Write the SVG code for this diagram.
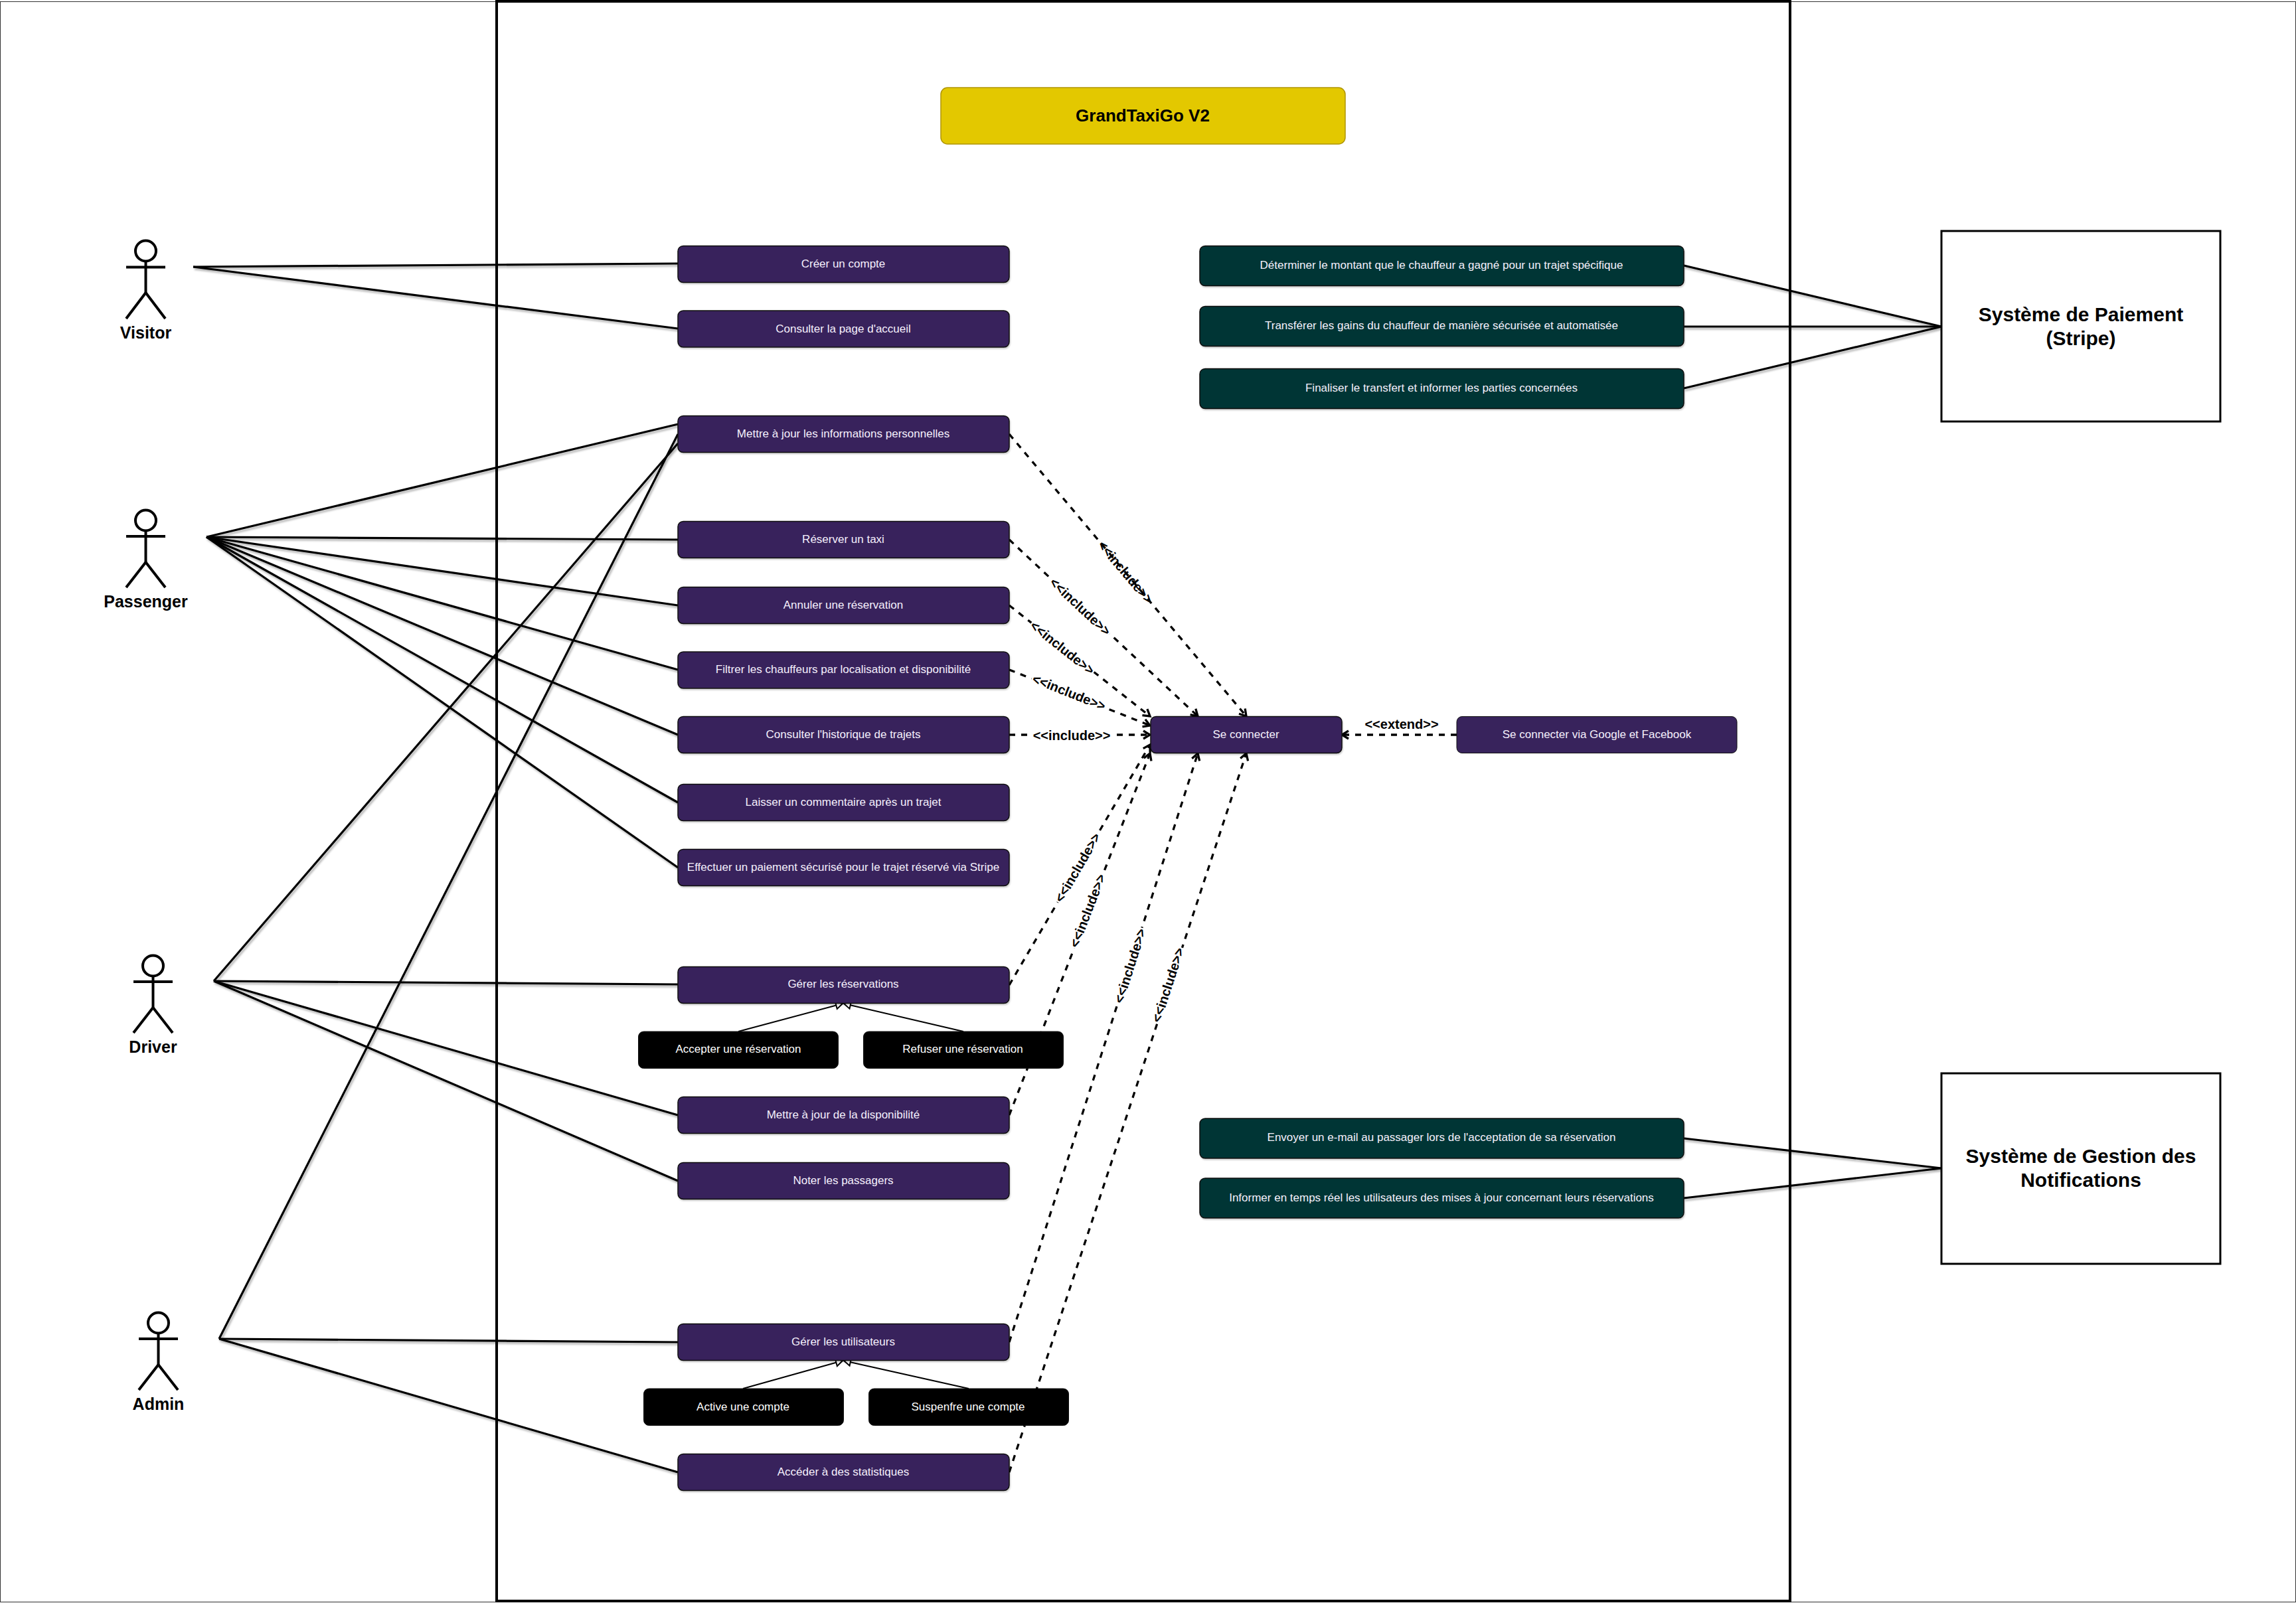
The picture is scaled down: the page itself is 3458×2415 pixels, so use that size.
<svg xmlns="http://www.w3.org/2000/svg" width="3458" height="2415" viewBox="0 0 3458 2415">
<style>
text{font-family:"Liberation Sans",Arial,sans-serif}
.u{stroke-width:1.5;filter:url(#sh)}
.p{fill:#38235c;stroke:#111}
.g{fill:#033434;stroke:#111}
.k{fill:#000;stroke:#111}
.t{font-size:17px;fill:#f5f0fc;text-anchor:middle}
.tw{font-size:17px;fill:#fff;text-anchor:middle}
.a line,.a circle{stroke:#000;stroke-width:4;fill:#fff}
.al{font-size:25px;font-weight:bold;fill:#000;text-anchor:middle}
.s line{stroke:#000;stroke-width:3.2;fill:none}
.d line{stroke:#000;stroke-width:3.300;stroke-dasharray:9 9;fill:none;marker-end:url(#open)}
.h line{stroke:#000;stroke-width:2;fill:none;marker-end:url(#tri)}
.l{font-size:20px;font-weight:bold;fill:#000;text-anchor:middle}
.ext{stroke:#000;stroke-width:3;fill:#fff}
.sys{font-size:30px;font-weight:bold;fill:#000;text-anchor:middle}
</style>
<defs>
<filter id="sh" x="-5%" y="-10%" width="110%" height="130%"><feDropShadow dx="1" dy="2" stdDeviation="1" flood-color="#000" flood-opacity="0.2"/></filter>
<filter id="shl" x="-5%" y="-5%" width="110%" height="120%" filterUnits="userSpaceOnUse" primitiveUnits="userSpaceOnUse"><feDropShadow dx="2" dy="3" stdDeviation="1.5" flood-color="#000" flood-opacity="0.3"/></filter>
<marker id="open" markerUnits="userSpaceOnUse" markerWidth="20" markerHeight="20" refX="17" refY="10" orient="auto"><path d="M7 4 L17 10 L7 16" fill="none" stroke="#000" stroke-width="3.300"/></marker>
<marker id="tri" markerUnits="userSpaceOnUse" markerWidth="20" markerHeight="20" refX="18" refY="10" orient="auto"><path d="M8 4.500 L18 10 L8 15.500 Z" fill="#fff" stroke="#000" stroke-width="2"/></marker>
</defs>
<rect width="3458" height="2415" fill="#fff"/>
<rect id="frame" x="0.500" y="2.500" width="3457" height="2411" fill="none" stroke="#333" stroke-width="1"/>
<rect id="system" x="748" y="2" width="1948" height="2410" fill="#fff" stroke="#000" stroke-width="4"/>

<g id="connectors">
<g class="s" filter="url(#shl)">
<line x1="291" y1="402" x2="1021" y2="397"/><line x1="291" y1="402" x2="1021" y2="495"/>
<line x1="311" y1="809" x2="1021" y2="639"/><line x1="311" y1="809" x2="1021" y2="813"/><line x1="311" y1="809" x2="1021" y2="912"/><line x1="311" y1="809" x2="1021" y2="1009"/><line x1="311" y1="809" x2="1021" y2="1107"/><line x1="311" y1="809" x2="1021" y2="1209"/><line x1="311" y1="809" x2="1021" y2="1307"/>
<line x1="322" y1="1478" x2="1021" y2="668"/><line x1="322" y1="1478" x2="1021" y2="1483"/><line x1="322" y1="1478" x2="1021" y2="1680"/><line x1="322" y1="1478" x2="1021" y2="1779"/>
<line x1="330" y1="2017" x2="1021" y2="654"/><line x1="330" y1="2017" x2="1021" y2="2022"/><line x1="330" y1="2017" x2="1021" y2="2218"/>
<line x1="2536" y1="400" x2="2924" y2="492"/><line x1="2536" y1="492" x2="2924" y2="492"/><line x1="2536" y1="585" x2="2924" y2="492"/>
<line x1="2536" y1="1715" x2="2924" y2="1760"/><line x1="2536" y1="1805" x2="2924" y2="1760"/>
</g>
<g class="d">
<line x1="1520" y1="654" x2="1877" y2="1079"/>
<line x1="1520" y1="813" x2="1804" y2="1079"/>
<line x1="1520" y1="912" x2="1732" y2="1079"/>
<line x1="1520" y1="1009" x2="1732" y2="1093"/>
<line x1="1520" y1="1107" x2="1732" y2="1107"/>
<line x1="1520" y1="1484" x2="1732" y2="1122"/>
<line x1="1520" y1="1680" x2="1732" y2="1135"/>
<line x1="1520" y1="2022" x2="1804" y2="1135"/>
<line x1="1520" y1="2218" x2="1877" y2="1135"/>
<line x1="2194" y1="1107" x2="2021" y2="1107"/>
</g>
<g class="h">
<line x1="1112" y1="1554" x2="1269" y2="1512"/><line x1="1451" y1="1554" x2="1271" y2="1512"/>
<line x1="1119" y1="2092" x2="1269" y2="2050"/><line x1="1459" y1="2092" x2="1271" y2="2050"/>
</g>
</g>

<g id="edge-labels">
<text class="l" transform="translate(1695 862) rotate(50)" y="7">&lt;&lt;include&gt;&gt;</text>
<g transform="translate(1627 914) rotate(43)"><rect x="-60" y="-12" width="120" height="24" fill="#fff"/><text class="l" y="7">&lt;&lt;include&gt;&gt;</text></g>
<g transform="translate(1600 976) rotate(38.400)"><rect x="-60" y="-12" width="120" height="24" fill="#fff"/><text class="l" y="7">&lt;&lt;include&gt;&gt;</text></g>
<g transform="translate(1610 1043) rotate(21.700)"><rect x="-60" y="-12" width="120" height="24" fill="#fff"/><text class="l" y="7">&lt;&lt;include&gt;&gt;</text></g>
<g transform="translate(1614 1108)"><rect x="-62" y="-12" width="124" height="24" fill="#fff"/><text class="l" y="7">&lt;&lt;include&gt;&gt;</text></g>
<g transform="translate(1623 1307) rotate(-59.800)"><rect x="-60" y="-12" width="120" height="24" fill="#fff"/><text class="l" y="7">&lt;&lt;include&gt;&gt;</text></g>
<g transform="translate(1638 1372) rotate(-68.800)"><rect x="-60" y="-12" width="120" height="24" fill="#fff"/><text class="l" y="7">&lt;&lt;include&gt;&gt;</text></g>
<g transform="translate(1702 1455) rotate(-72.300)"><rect x="-60" y="-12" width="120" height="24" fill="#fff"/><text class="l" y="7">&lt;&lt;include&gt;&gt;</text></g>
<g transform="translate(1759 1484) rotate(-71.800)"><rect x="-60" y="-12" width="120" height="24" fill="#fff"/><text class="l" y="7">&lt;&lt;include&gt;&gt;</text></g>
<text class="l" x="2111" y="1098">&lt;&lt;extend&gt;&gt;</text>
</g>

<g id="title"><rect x="1417" y="132" width="609" height="85" rx="10" fill="#e3c800" stroke="#b09500" stroke-width="1.500"/><text x="1721" y="183" font-size="26" font-weight="bold" text-anchor="middle" fill="#000">GrandTaxiGo V2</text></g>

<g id="actor-visitor" class="a"><circle cx="219.500" cy="378" r="15.500"/><line x1="219.500" y1="393.500" x2="219.500" y2="441"/><line x1="190" y1="402.500" x2="249" y2="402.500"/><line x1="219.500" y1="441" x2="190" y2="480"/><line x1="219.500" y1="441" x2="249" y2="480"/><text class="al" x="219.500" y="510">Visitor</text></g>
<g id="actor-passenger" class="a"><circle cx="219.500" cy="784" r="15.500"/><line x1="219.500" y1="799.500" x2="219.500" y2="847"/><line x1="190" y1="808" x2="249" y2="808"/><line x1="219.500" y1="847" x2="190" y2="885"/><line x1="219.500" y1="847" x2="249" y2="885"/><text class="al" x="219.500" y="915">Passenger</text></g>
<g id="actor-driver" class="a"><circle cx="230.500" cy="1455" r="15.500"/><line x1="230.500" y1="1470.500" x2="230.500" y2="1518"/><line x1="201" y1="1479" x2="260" y2="1479"/><line x1="230.500" y1="1518" x2="201" y2="1556"/><line x1="230.500" y1="1518" x2="260" y2="1556"/><text class="al" x="230.500" y="1586">Driver</text></g>
<g id="actor-admin" class="a"><circle cx="238.500" cy="1993" r="15.500"/><line x1="238.500" y1="2008.500" x2="238.500" y2="2056"/><line x1="209" y1="2017" x2="268" y2="2017"/><line x1="238.500" y1="2056" x2="209" y2="2094"/><line x1="238.500" y1="2056" x2="268" y2="2094"/><text class="al" x="238.500" y="2124">Admin</text></g>

<g id="n1"><rect class="p u" x="1021" y="370.500" width="499" height="55" rx="8"/><text class="t" x="1270" y="403">Créer un compte</text></g>
<g id="n2"><rect class="p u" x="1021" y="468" width="499" height="55" rx="8"/><text class="t" x="1270" y="500.500">Consulter la page d'accueil</text></g>
<g id="n3"><rect class="p u" x="1021" y="626.500" width="499" height="55" rx="8"/><text class="t" x="1270" y="659">Mettre à jour les informations personnelles</text></g>
<g id="n4"><rect class="p u" x="1021" y="785.500" width="499" height="55" rx="8"/><text class="t" x="1270" y="818">Réserver un taxi</text></g>
<g id="n5"><rect class="p u" x="1021" y="884.500" width="499" height="55" rx="8"/><text class="t" x="1270" y="917">Annuler une réservation</text></g>
<g id="n6"><rect class="p u" x="1021" y="982" width="499" height="55" rx="8"/><text class="t" x="1270" y="1014">Filtrer les chauffeurs par localisation et disponibilité</text></g>
<g id="n7"><rect class="p u" x="1021" y="1079.500" width="499" height="55" rx="8"/><text class="t" x="1270" y="1112">Consulter l'historique de trajets</text></g>
<g id="n8"><rect class="p u" x="1021" y="1181.500" width="499" height="55" rx="8"/><text class="t" x="1270" y="1214">Laisser un commentaire après un trajet</text></g>
<g id="n9"><rect class="p u" x="1021" y="1279.500" width="499" height="55" rx="8"/><text class="t" x="1270" y="1312">Effectuer un paiement sécurisé pour le trajet réservé via Stripe</text></g>
<g id="n10"><rect class="p u" x="1021" y="1456.500" width="499" height="55" rx="8"/><text class="t" x="1270" y="1488">Gérer les réservations</text></g>
<g id="n11"><rect class="k" x="961.500" y="1554" width="301" height="55.500" rx="8"/><text class="tw" x="1112" y="1586">Accepter une réservation</text></g>
<g id="n12"><rect class="k" x="1300.500" y="1554" width="301" height="55.500" rx="8"/><text class="tw" x="1450" y="1586">Refuser une réservation</text></g>
<g id="n13"><rect class="p u" x="1021" y="1652.500" width="499" height="55" rx="8"/><text class="t" x="1270" y="1685">Mettre à jour de la disponibilité</text></g>
<g id="n14"><rect class="p u" x="1021" y="1751.500" width="499" height="55" rx="8"/><text class="t" x="1270" y="1784">Noter les passagers</text></g>
<g id="n15"><rect class="p u" x="1021" y="1994.500" width="499" height="55" rx="8"/><text class="t" x="1270" y="2027">Gérer les utilisateurs</text></g>
<g id="n16"><rect class="k" x="969.500" y="2092" width="301" height="55.500" rx="8"/><text class="tw" x="1119" y="2125">Active une compte</text></g>
<g id="n17"><rect class="k" x="1308.500" y="2092" width="301" height="55.500" rx="8"/><text class="tw" x="1458" y="2125">Suspenfre une compte</text></g>
<g id="n18"><rect class="p u" x="1021" y="2190.500" width="499" height="55" rx="8"/><text class="t" x="1270" y="2223">Accéder à des statistiques</text></g>
<g id="n19"><rect class="p u" x="1733" y="1079.500" width="288" height="55" rx="8"/><text class="t" x="1876.500" y="1112">Se connecter</text></g>
<g id="n20"><rect class="p" x="2194" y="1079.500" width="422" height="55" rx="8"/><text class="t" x="2405" y="1112">Se connecter via Google et Facebook</text></g>
<g id="n21"><rect class="g u" x="1807" y="370.500" width="729" height="60" rx="8"/><text class="t" x="2171" y="405">Déterminer le montant que le chauffeur a gagné pour un trajet spécifique</text></g>
<g id="n22"><rect class="g u" x="1807" y="461.500" width="729" height="60" rx="8"/><text class="t" x="2171" y="496">Transférer les gains du chauffeur de manière sécurisée et automatisée</text></g>
<g id="n23"><rect class="g u" x="1807" y="555.500" width="729" height="60" rx="8"/><text class="t" x="2171" y="590">Finaliser le transfert et informer les parties concernées</text></g>
<g id="n24"><rect class="g u" x="1807" y="1685" width="729" height="60" rx="8"/><text class="t" x="2171" y="1719">Envoyer un e-mail au passager lors de l'acceptation de sa réservation</text></g>
<g id="n25"><rect class="g u" x="1807" y="1775" width="729" height="60" rx="8"/><text class="t" x="2171" y="1810">Informer en temps réel les utilisateurs des mises à jour concernant leurs réservations</text></g>
<g id="stripe"><rect class="ext" x="2924" y="348" width="420" height="287"/><text class="sys" x="3134" y="484">Système de Paiement</text><text class="sys" x="3134" y="520">(Stripe)</text></g>
<g id="notifications"><rect class="ext" x="2924" y="1617" width="420" height="287"/><text class="sys" x="3134" y="1752">Système de Gestion des</text><text class="sys" x="3134" y="1788">Notifications</text></g>
</svg>
